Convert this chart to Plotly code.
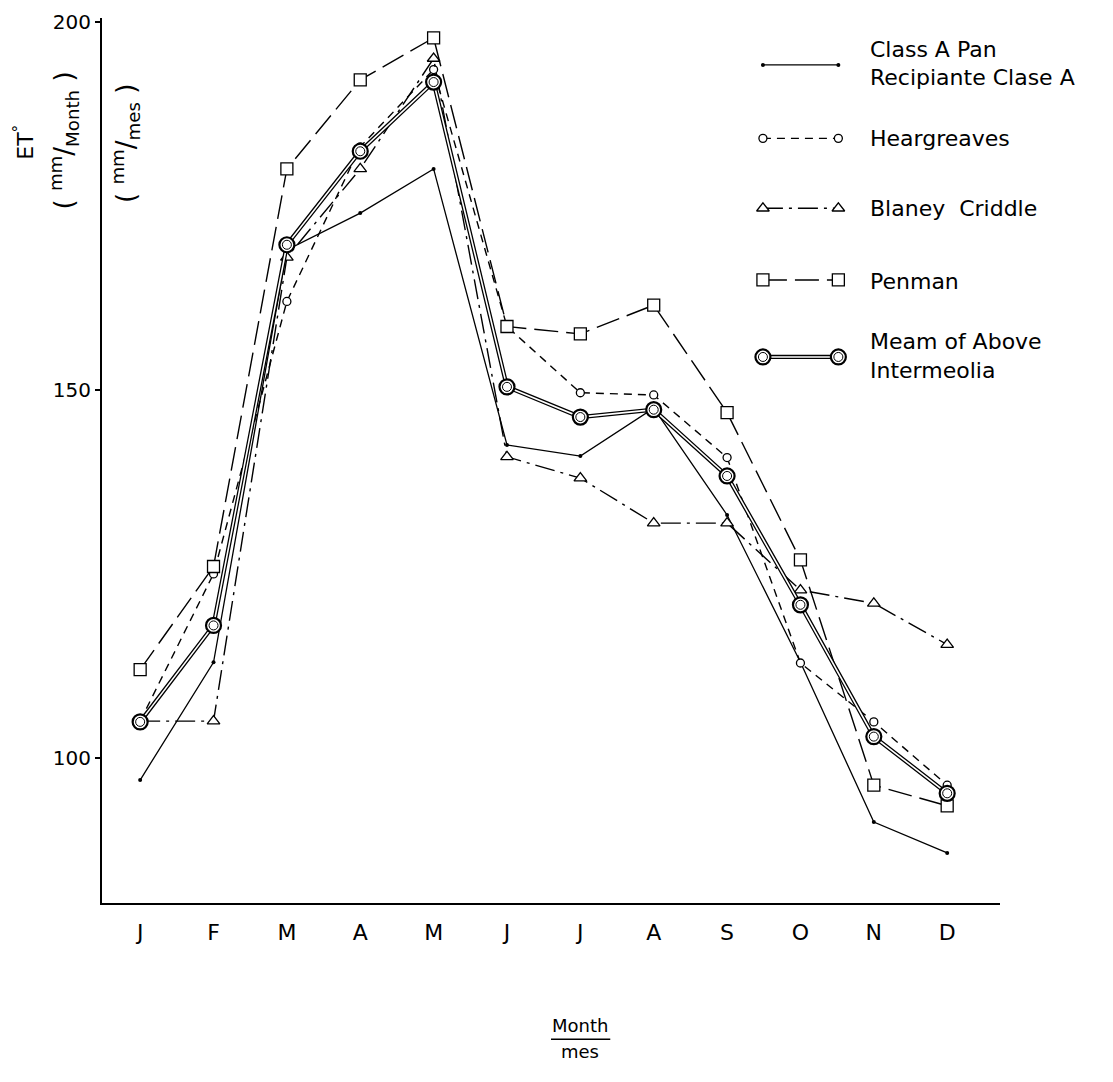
import plotly.graph_objects as go

months = ["J", "F", "M", "A", "M", "J", "J", "A", "S", "O", "N", "D"]
class_a = [97, 113, 169, 174, 180, 142.5, 141, 147.5, 133, 113, 91.3, 87.1]
heargreaves = [105, 125, 162, 183, 193.5, 158.6, 149.6, 149.3, 140.8, 112.9, 104.9, 96.3]
blaney = [105, 105, 168, 180, 195, 140.9, 138, 131.9, 131.9, 122.8, 121, 115.4]
penman = [112, 126, 180, 192.1, 197.8, 158.6, 157.6, 161.5, 146.9, 126.9, 96.3, 93.5]
mean = [104.9, 118, 169.7, 182.4, 191.8, 150.4, 146.3, 147.3, 138.3, 120.8, 102.9, 95.2]
y_ticks = [100, 150, 200]

x = list(range(len(months)))
FONT = "DejaVu Sans"
BLK = "black"

fig = go.Figure()

# Data traces
fig.add_trace(go.Scatter(x=x, y=class_a, mode="lines+markers",
                         line=dict(color=BLK, width=1.3),
                         marker=dict(symbol="circle", size=4, color=BLK)))
fig.add_trace(go.Scatter(x=x, y=heargreaves, mode="lines+markers",
                         line=dict(color=BLK, width=1.4, dash="8px,6px"),
                         marker=dict(symbol="circle", size=8, color="white",
                                     line=dict(color=BLK, width=1.3))))
fig.add_trace(go.Scatter(x=x, y=blaney, mode="lines+markers",
                         line=dict(color=BLK, width=1.4, dash="20px,6px,3px,6px"),
                         marker=dict(symbol="triangle-up", size=11, color="white",
                                     line=dict(color=BLK, width=1.3))))
fig.add_trace(go.Scatter(x=x, y=penman, mode="lines+markers",
                         line=dict(color=BLK, width=1.4, dash="24px,8px"),
                         marker=dict(symbol="square", size=12, color="white",
                                     line=dict(color=BLK, width=1.3))))
# Mean: double line
fig.add_trace(go.Scatter(x=x, y=mean, mode="lines",
                         line=dict(color=BLK, width=4.2)))
fig.add_trace(go.Scatter(x=x, y=mean, mode="lines",
                         line=dict(color="white", width=1.6)))
fig.add_trace(go.Scatter(x=x, y=mean, mode="markers",
                         marker=dict(symbol="circle", size=15, color="white",
                                     line=dict(color=BLK, width=2.2))))
fig.add_trace(go.Scatter(x=x, y=mean, mode="markers",
                         marker=dict(symbol="circle-open", size=9, color=BLK,
                                     line=dict(color=BLK, width=1))))

# Legend keys on an overlay axis (0..1 frame of the plot area)
lx = [0.736, 0.820]
def key(yv, line, marker, mode="lines+markers"):
    fig.add_trace(go.Scatter(x=lx, y=[yv, yv], mode=mode, xaxis="x2", yaxis="y2",
                             line=line, marker=marker))

key(0.947, dict(color=BLK, width=1.3), dict(symbol="circle", size=4, color=BLK))
key(0.864, dict(color=BLK, width=1.4, dash="8px,6px"),
    dict(symbol="circle", size=8, color="white", line=dict(color=BLK, width=1.3)))
key(0.785, dict(color=BLK, width=1.4, dash="20px,6px,3px,6px"),
    dict(symbol="triangle-up", size=11, color="white", line=dict(color=BLK, width=1.3)))
key(0.704, dict(color=BLK, width=1.4, dash="24px,8px"),
    dict(symbol="square", size=12, color="white", line=dict(color=BLK, width=1.3)))
key(0.617, dict(color=BLK, width=4.2), dict(size=1, color=BLK), mode="lines")
key(0.617, dict(color="white", width=1.6), dict(size=1, color="white"), mode="lines")
key(0.617, dict(color=BLK, width=1), dict(symbol="circle", size=15, color="white",
                                           line=dict(color=BLK, width=2.2)), mode="markers")
key(0.617, dict(color=BLK, width=1), dict(symbol="circle-open", size=9, color=BLK,
                                           line=dict(color=BLK, width=1)), mode="markers")

legend_texts = [
    ("Class A Pan", 0.964),
    ("Recipiante Clase A", 0.933),
    ("Heargreaves", 0.864),
    ("Blaney  Criddle", 0.785),
    ("Penman", 0.702),
    ("Meam of Above", 0.634),
    ("Intermeolia", 0.602),
]
annotations = []
for t, yv in legend_texts:
    annotations.append(dict(text=t, x=0.853, y=yv, xref="paper", yref="paper",
                            xanchor="left", yanchor="middle", showarrow=False,
                            font=dict(family=FONT, size=22, color=BLK)))

# Y-axis title pieces (rotated)
annotations.append(dict(text="ET<sup>°</sup>", x=-0.087, y=0.86, xref="paper", yref="paper",
                        textangle=-90, showarrow=False, xanchor="center", yanchor="middle",
                        font=dict(family=FONT, size=22, color=BLK)))
annotations.append(dict(text="( <sup>mm</sup>/<sub>Month</sub> )", x=-0.043, y=0.862,
                        xref="paper", yref="paper", textangle=-90, showarrow=False,
                        xanchor="center", yanchor="middle",
                        font=dict(family=FONT, size=26, color=BLK)))
annotations.append(dict(text="( <sup>mm</sup>/<sub>mes</sub> )", x=0.026, y=0.858,
                        xref="paper", yref="paper", textangle=-90, showarrow=False,
                        xanchor="center", yanchor="middle",
                        font=dict(family=FONT, size=26, color=BLK)))

# X-axis title: Month over mes
annotations.append(dict(text="Month", x=0.532, y=-0.138, xref="paper", yref="paper",
                        showarrow=False, xanchor="center", yanchor="middle",
                        font=dict(family=FONT, size=18, color=BLK)))
annotations.append(dict(text="mes", x=0.532, y=-0.168, xref="paper", yref="paper",
                        showarrow=False, xanchor="center", yanchor="middle",
                        font=dict(family=FONT, size=18, color=BLK)))

shapes = [dict(type="line", xref="paper", yref="paper", x0=0.5, x1=0.566,
               y0=-0.154, y1=-0.154, line=dict(color=BLK, width=1.5))]

fig.update_layout(
    width=1113, height=1082,
    margin=dict(l=94, r=121, t=10, b=187),
    paper_bgcolor="white", plot_bgcolor="white",
    showlegend=False,
    annotations=annotations, shapes=shapes,
    xaxis=dict(range=[-0.52, 11.72], tickmode="array", tickvals=x, ticktext=months,
               showgrid=False, zeroline=False, showline=True, linecolor=BLK, linewidth=2,
               ticks="outside", ticklen=9, tickcolor="rgba(0,0,0,0)", automargin=False,
               tickfont=dict(family=FONT, size=22, color=BLK)),
    yaxis=dict(range=[80.3, 200.5], tickmode="array", tickvals=y_ticks,
               showgrid=False, zeroline=False, showline=True, linecolor=BLK, linewidth=2,
               ticks="outside", ticklen=5, tickwidth=1.5, tickcolor=BLK, automargin=False,
               tickfont=dict(family=FONT, size=20, color=BLK)),
    xaxis2=dict(range=[0, 1], domain=[0, 1], anchor="y2", overlaying="x", visible=False),
    yaxis2=dict(range=[0, 1], domain=[0, 1], anchor="x2", overlaying="y", visible=False),
)

fig.write_html("out.html")
